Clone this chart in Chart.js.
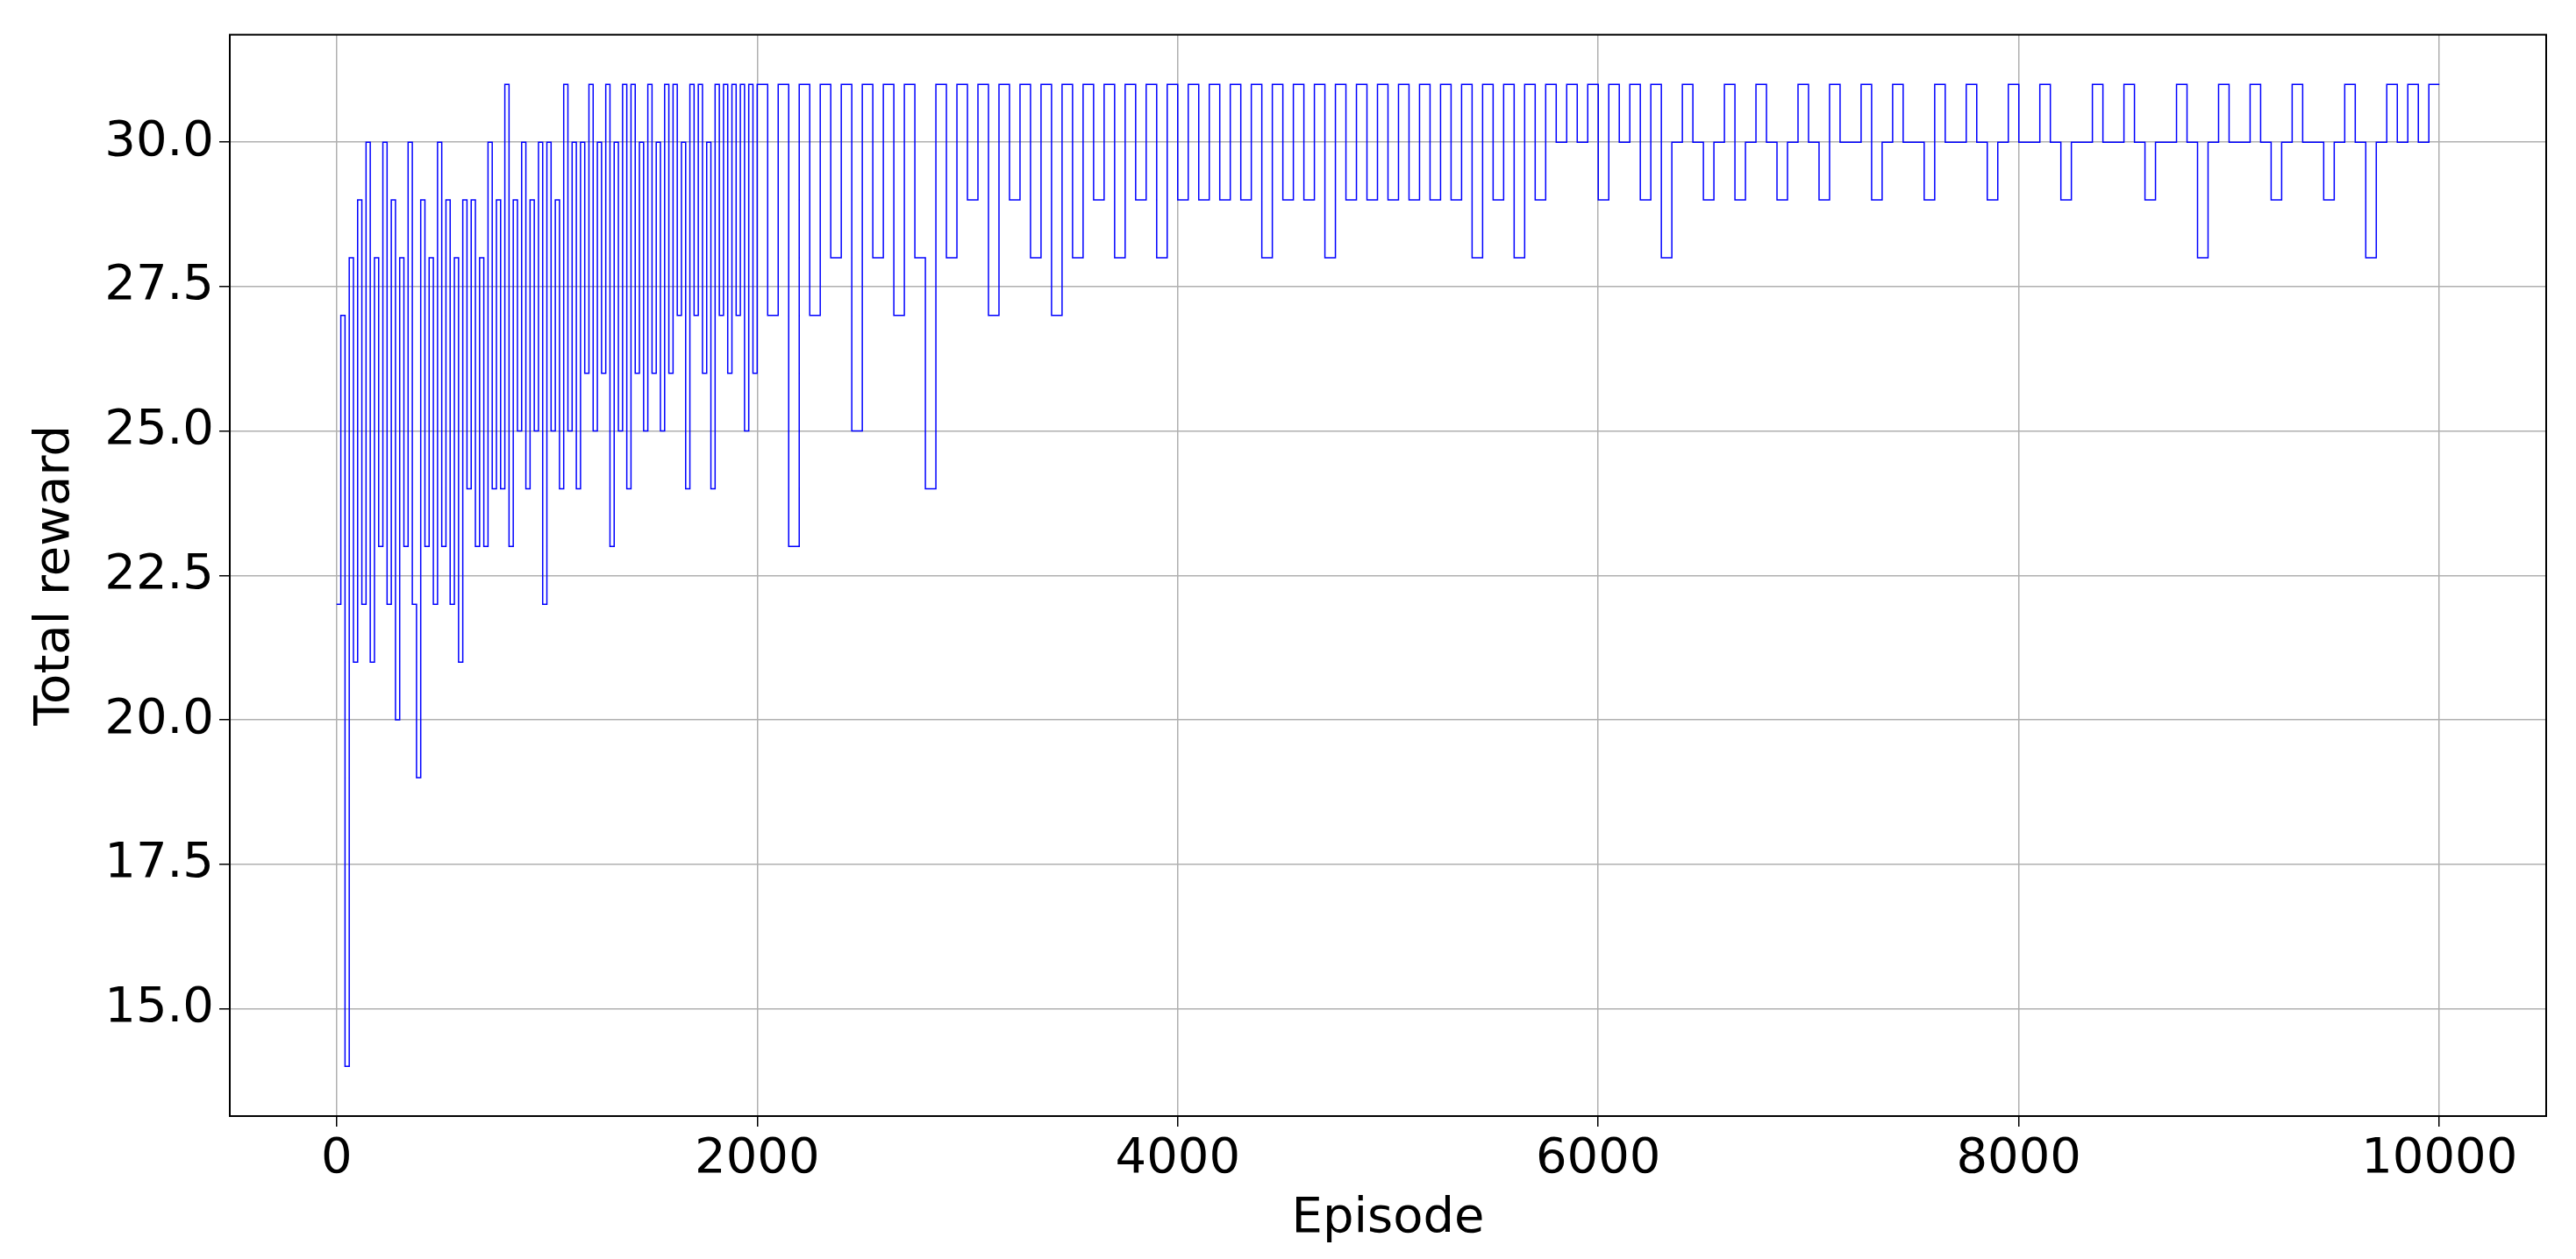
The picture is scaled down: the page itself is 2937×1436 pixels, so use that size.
<!DOCTYPE html>
<html>
<head>
<meta charset="utf-8">
<script src="https://cdn.jsdelivr.net/npm/chart.js@4"></script>
<style>
  body { margin: 0; background: #fff; }
  #wrap { width: 2937px; height: 1436px; }
</style>
</head>
<body>
<div id="wrap"><canvas id="grafica"></canvas></div>
<script>
// Episodios y recompensa total (muestreo aproximado)
const episodios = [
  0,20,40,60,80,100,120,140,160,180,200,220,240,260,280,300,320,340,360,380,
  400,420,440,460,480,500,520,540,560,580,600,620,640,660,680,700,720,740,760,780,
  800,820,840,860,880,900,920,940,960,980,1000,1020,1040,1060,1080,1100,1120,1140,1160,1180,
  1200,1220,1240,1260,1280,1300,1320,1340,1360,1380,1400,1420,1440,1460,1480,1500,1520,1540,1560,1580,
  1600,1620,1640,1660,1680,1700,1720,1740,1760,1780,1800,1820,1840,1860,1880,1900,1920,1940,1960,1980,
  2000,2050,2100,2150,2200,2250,2300,2350,2400,2450,2500,2550,2600,2650,2700,2750,2800,2850,2900,2950,
  3000,3050,3100,3150,3200,3250,3300,3350,3400,3450,3500,3550,3600,3650,3700,3750,3800,3850,3900,3950,
  4000,4050,4100,4150,4200,4250,4300,4350,4400,4450,4500,4550,4600,4650,4700,4750,4800,4850,4900,4950,
  5000,5050,5100,5150,5200,5250,5300,5350,5400,5450,5500,5550,5600,5650,5700,5750,5800,5850,5900,5950,
  6000,6050,6100,6150,6200,6250,6300,6350,6400,6450,6500,6550,6600,6650,6700,6750,6800,6850,6900,6950,
  7000,7050,7100,7150,7200,7250,7300,7350,7400,7450,7500,7550,7600,7650,7700,7750,7800,7850,7900,7950,
  8000,8050,8100,8150,8200,8250,8300,8350,8400,8450,8500,8550,8600,8650,8700,8750,8800,8850,8900,8950,
  9000,9050,9100,9150,9200,9250,9300,9350,9400,9450,9500,9550,9600,9650,9700,9750,9800,9850,9900,9950,
  10000
];
const recompensas = [
  22,27,14,28,21,29,22,30,21,28,23,30,22,29,20,28,23,30,22,19,
  29,23,28,22,30,23,29,22,28,21,29,24,29,23,28,23,30,24,29,24,
  31,23,29,25,30,24,29,25,30,22,30,25,29,24,31,25,30,24,30,26,
  31,25,30,26,31,23,30,25,31,24,31,26,30,25,31,26,30,25,31,26,
  31,27,30,24,31,27,31,26,30,24,31,27,31,26,31,27,31,25,31,26,
  31,27,31,23,31,27,31,28,31,25,31,28,31,27,31,28,24,31,28,31,
  29,31,27,31,29,31,28,31,27,31,28,31,29,31,28,31,29,31,28,31,
  29,31,29,31,29,31,29,31,28,31,29,31,29,31,28,31,29,31,29,31,
  29,31,29,31,29,31,29,31,28,31,29,31,28,31,29,31,30,31,30,31,
  29,31,30,31,29,31,28,30,31,30,29,30,31,29,30,31,30,29,30,31,
  30,29,31,30,30,31,29,30,31,30,30,29,31,30,30,31,30,29,30,31,
  30,30,31,30,29,30,30,31,30,30,31,30,29,30,30,31,30,28,30,31,
  30,30,31,30,29,30,31,30,30,29,30,31,30,28,30,31,30,31,30,31,
  31
];

const fuente = { size: 56, family: 'DejaVu Sans' };

const ctx = document.getElementById('grafica').getContext('2d');
new Chart(ctx, {
  type: 'line',
  data: {
    datasets: [{
      data: episodios.map((e, i) => ({ x: e, y: recompensas[i] })),
      borderColor: '#0000ff',
      borderWidth: 1.5,
      pointRadius: 0,
      stepped: true,
      fill: false
    }]
  },
  options: {
    responsive: true,
    maintainAspectRatio: false,
    devicePixelRatio: 1,
    animation: false,
    layout: { padding: { top: 28, right: 34, left: 0, bottom: 0 } },
    plugins: { legend: { display: false }, tooltip: { enabled: false } },
    scales: {
      x: {
        type: 'linear', min: -508, max: 10508,
        afterBuildTicks: s => { s.ticks = [0,2000,4000,6000,8000,10000].map(v => ({ value: v })); },
        afterFit: s => { s.height = 163; },
        grid: { color: '#b0b0b0', lineWidth: 1.5, tickLength: 12, tickColor: '#000' },
        border: { display: false },
        ticks: { color: '#000', font: fuente, maxRotation: 0, padding: 4, callback: v => v },
        title: { display: true, text: 'Episode', color: '#000', font: fuente, padding: { top: 0, bottom: 12 } }
      },
      y: {
        min: 13.14, max: 31.86,
        afterBuildTicks: s => { s.ticks = [15,17.5,20,22.5,25,27.5,30].map(v => ({ value: v })); },
        afterFit: s => { s.width = 262; },
        grid: { color: '#b0b0b0', lineWidth: 1.5, tickLength: 12, tickColor: '#000' },
        border: { display: false },
        ticks: { color: '#000', font: fuente, padding: 6, callback: v => Number(v).toFixed(1) },
        title: { display: true, text: 'Total reward', color: '#000', font: fuente, padding: { top: 30, bottom: 0 } }
      }
    }
  },
  plugins: [{
    id: 'marco',
    afterDraw(chart) {
      const a = chart.chartArea, c = chart.ctx;
      c.save(); c.strokeStyle = '#000'; c.lineWidth = 2;
      c.strokeRect(a.left, a.top, a.right - a.left, a.bottom - a.top);
      c.restore();
    }
  }]
});
</script>
</body>
</html>
